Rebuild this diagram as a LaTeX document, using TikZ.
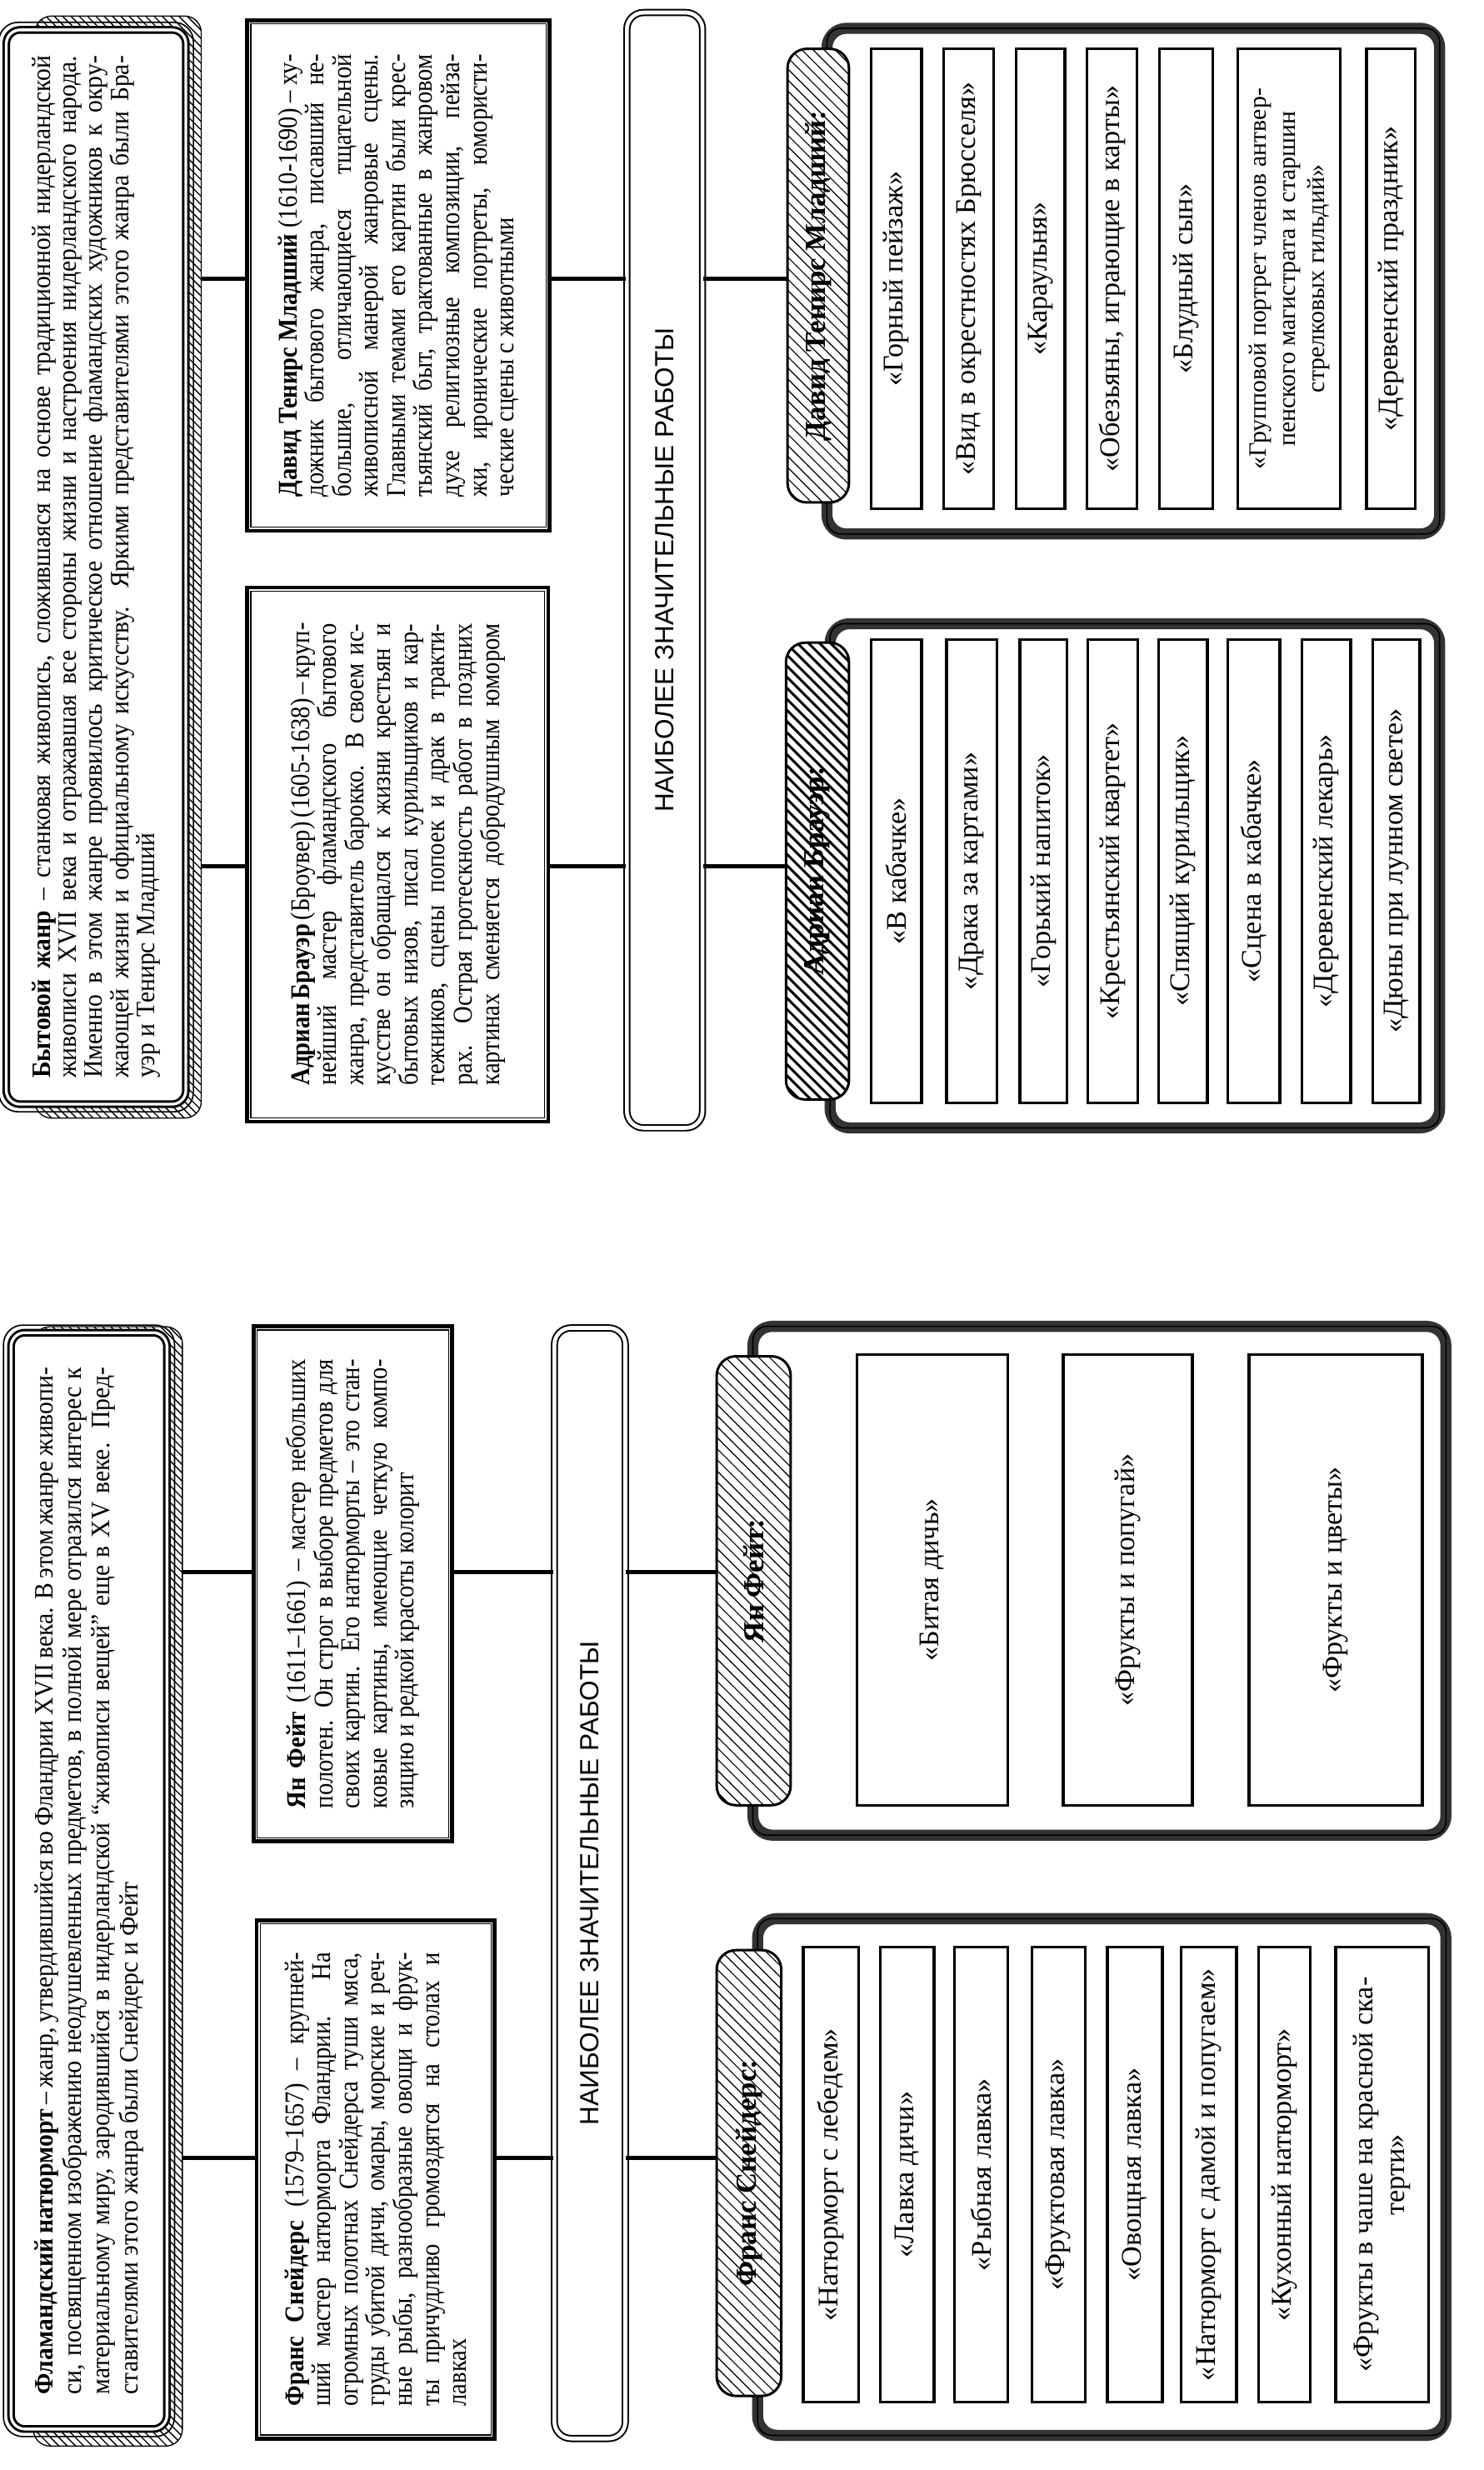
\documentclass[tikz,border=0pt]{standalone}
\usepackage{fontspec}
\setmainfont{Liberation Serif}
\setsansfont{Liberation Sans}
\newfontfamily\condserif[FakeStretch=0.88]{Liberation Serif}
\newfontfamily\genreserif[FakeStretch=0.93]{Liberation Serif}
\usetikzlibrary{calc,backgrounds,patterns}

% justified line of a fixed width
\newlength{\jw}
\newcommand{\jl}[1]{\makebox[\jw][s]{#1}}

% hatching for the name tabs
\pgfdeclarepatternformonly{hatchthin}{\pgfqpoint{-1pt}{-1pt}}{\pgfqpoint{5pt}{5pt}}{\pgfqpoint{4pt}{4pt}}{%
  \pgfsetlinewidth{0.35pt}%
  \pgfpathmoveto{\pgfqpoint{-0.1pt}{4.1pt}}%
  \pgfpathlineto{\pgfqpoint{4.1pt}{-0.1pt}}%
  \pgfusepath{stroke}}
\pgfdeclarepatternformonly{hatchbold}{\pgfqpoint{-1pt}{-1pt}}{\pgfqpoint{5pt}{5pt}}{\pgfqpoint{4pt}{4pt}}{%
  \pgfsetlinewidth{0.9pt}%
  \pgfpathmoveto{\pgfqpoint{-0.1pt}{4.1pt}}%
  \pgfpathlineto{\pgfqpoint{4.1pt}{-0.1pt}}%
  \pgfusepath{stroke}}

\begin{document}
\begin{tikzpicture}[
    rotate=90, transform shape,
    genre/.style={draw, fill=white, line width=.9pt, double=white, double distance=1pt, rounded corners=5pt, align=left, inner sep=0pt, font=\genreserif\fontsize{9.6}{10.2}\selectfont, execute at begin node={\setlength{\jw}{#1}}},
    bio/.style={draw, fill=white, line width=1.4pt, align=left, inner sep=0pt, font=\condserif\fontsize{9.8}{9.8}\selectfont, execute at begin node={\setlength{\jw}{#1}}},
    headbar/.style={draw, fill=white, line width=.6pt, double=white, double distance=1.4pt, rounded corners=6pt, font=\sffamily\fontsize{9.5}{11}\selectfont},
    workframe/.style={draw=black!80, fill=white, line width=4pt, rounded corners=7pt},
    namebox/.style={draw, line width=.9pt, rounded corners=7pt, preaction={fill=white}, pattern=hatchthin, font=\bfseries\fontsize{10.5}{12}\selectfont},
    workbox/.style={draw, fill=white, line width=1pt, align=center, inner sep=1pt, font=\fontsize{10.3}{11.5}\selectfont},
    link/.style={line width=1.5pt}
]
\useasboundingbox (0,-18.84) rectangle (31.36,0);

% genre blocks
\node[genre=13.04cm, minimum width=13.92cm, minimum height=1.98cm] (flemish) at (7.48,-1.13) {\jl{\textbf{Фламандский натюрморт} – жанр, утвердившийся во Фландрии XVII века. В этом жанре живопи-}\\\jl{си, посвященном изображению неодушевленных предметов, в полной мере отразился интерес к}\\\jl{материальному миру, зародившийся в нидерландской “живописи вещей” еще в XV веке. Пред-}\\ставителями этого жанра были Снейдерс и Фейт};
\node[genre=12.98cm, font=\genreserif\fontsize{9.6}{9.4}\selectfont, minimum width=13.64cm, minimum height=2.28cm] (genrepaint) at (24.16,-1.22) {\jl{\textbf{Бытовой жанр} – станковая живопись, сложившаяся на основе традиционной нидерландской}\\\jl{живописи XVII века и отражавшая все стороны жизни и настроения нидерландского народа.}\\\jl{Именно в этом жанре проявилось критическое отношение фламандских художников к окру-}\\\jl{жающей жизни и официальному искусству. Яркими представителями этого жанра были Бра-}\\уэр и Тенирс Младший};

\begin{scope}[on background layer]
\draw[pattern=north west lines, rounded corners=6pt] ($(flemish.south west)+(-0.2,-0.18)$) rectangle ($(flemish.north east)+(0.06,-0.3)$);
\draw[pattern=north west lines, rounded corners=6pt] ($(genrepaint.south west)+(-0.16,-0.18)$) rectangle ($(genrepaint.north east)+(0.16,-0.38)$);
\end{scope}
\foreach \n in {flemish,genrepaint}
  \draw[line width=.5pt, rounded corners=7pt] ($(\n.south west)+(-.08,-.08)$) rectangle ($(\n.north east)+(.08,.08)$);

% artists
\node[bio=5.76cm, minimum width=6.58cm, minimum height=3.02cm] (snyders) at (3.69,-4.77) {\jl{\textbf{Франс Снейдерс} (1579–1657) – крупней-}\\\jl{ший мастер натюрморта Фландрии. На}\\\jl{огромных полотнах Снейдерса туши мяса,}\\\jl{груды убитой дичи, омары, морские и реч-}\\\jl{ные рыбы, разнообразные овощи и фрук-}\\\jl{ты причудливо громоздятся на столах и}\\лавках};
\node[bio=5.70cm, minimum width=6.54cm, minimum height=2.52cm] (fyt) at (11.25,-4.48) {\jl{\textbf{Ян Фейт} (1611–1661) – мастер небольших}\\\jl{полотен. Он строг в выборе предметов для}\\\jl{своих картин. Его натюрморты – это стан-}\\\jl{ковые картины, имеющие четкую компо-}\\зицию и редкой красоты колорит};
\node[bio=5.86cm, minimum width=6.78cm, minimum height=3.82cm] (brouwer) at (20.51,-5.05) {\jl{\textbf{Адриан Брауэр} (Броувер) (1605-1638) – круп-}\\\jl{нейший мастер фламандского бытового}\\\jl{жанра, представитель барокко. В своем ис-}\\\jl{кусстве он обращался к жизни крестьян и}\\\jl{бытовых низов, писал курильщиков и кар-}\\\jl{тежников, сцены попоек и драк в тракти-}\\\jl{рах. Острая гротескность работ в поздних}\\\jl{картинах сменяется добродушным юмором}};
\node[bio=5.62cm, minimum width=6.48cm, minimum height=3.84cm] (teniers) at (27.86,-5.06) {\jl{\textbf{Давид Тенирс Младший} (1610-1690) – ху-}\\\jl{дожник бытового жанра, писавший не-}\\\jl{большие, отличающиеся тщательной}\\\jl{живописной манерой жанровые сцены.}\\\jl{Главными темами его картин были крес-}\\\jl{тьянский быт, трактованные в жанровом}\\\jl{духе религиозные композиции, пейза-}\\\jl{жи, иронические портреты, юмористи-}\\ческие сцены с животными};
\foreach \n in {snyders,fyt,brouwer,teniers}
  \draw[line width=.4pt] ($(\n.south west)+(.07,.07)$) rectangle ($(\n.north east)-(.07,.07)$);

% headers
\node[headbar, minimum width=14.10cm, minimum height=0.90cm] (headL) at (7.45,-7.49) {НАИБОЛЕЕ ЗНАЧИТЕЛЬНЫЕ РАБОТЫ};
\node[headbar, minimum width=14.16cm, minimum height=0.96cm] (headR) at (24.12,-8.44) {НАИБОЛЕЕ ЗНАЧИТЕЛЬНЫЕ РАБОТЫ};

% frames for the works
\node[workframe, minimum width=6.56cm, minimum height=8.74cm] (frameS) at (3.72,-13.99) {};
\node[workframe, minimum width=6.46cm, minimum height=8.80cm] (frameF) at (11.29,-13.96) {};
\node[workframe, minimum width=6.40cm, minimum height=7.74cm] (frameB) at (20.24,-14.41) {};
\node[workframe, minimum width=6.42cm, minimum height=7.78cm] (frameT) at (27.79,-14.39) {};
\foreach \n in {frameS,frameF,frameB,frameT}
  \draw[line width=.5pt, rounded corners=5pt] ($(\n.south west)+(.07,.07)$) rectangle ($(\n.north east)-(.07,.07)$);

% name tabs
\node[namebox, minimum width=5.66cm, minimum height=0.82cm] (tabS) at (3.77,-9.51) {Франс Снейдерс:};
\node[namebox, minimum width=5.70cm, minimum height=0.94cm] (tabF) at (11.29,-9.57) {Ян Фейт:};
\node[namebox, pattern=hatchbold, minimum width=5.80cm, minimum height=0.80cm] (tabB) at (20.30,-10.38) {Адриан Брауэр:};
\node[namebox, minimum width=5.76cm, minimum height=0.78cm] (tabT) at (27.86,-10.39) {Давид Тенирс Младший:};

% works: Snyders
\node[workbox, minimum width=5.78cm, minimum height=.70cm] (s1) at (3.75,-10.55) {«Натюрморт с лебедем»};
\node[workbox, minimum width=5.78cm, minimum height=.68cm] (s2) at (3.75,-11.52) {«Лавка дичи»};
\node[workbox, minimum width=5.78cm, minimum height=.68cm] (s3) at (3.75,-12.46) {«Рыбная лавка»};
\node[workbox, minimum width=5.78cm, minimum height=.68cm] (s4) at (3.75,-13.44) {«Фруктовая лавка»};
\node[workbox, minimum width=5.78cm, minimum height=.70cm] (s5) at (3.75,-14.41) {«Овощная лавка»};
\node[workbox, minimum width=5.78cm, minimum height=.70cm] (s6) at (3.75,-15.35) {«Натюрморт с дамой и попугаем»};
\node[workbox, minimum width=5.78cm, minimum height=.66cm] (s7) at (3.75,-16.31) {«Кухонный натюрморт»};
\node[workbox, minimum width=5.78cm, minimum height=1.18cm] (s8) at (3.75,-17.55) {«Фрукты в чаше на красной ска-\\терти»};

% works: Fyt
\node[workbox, minimum width=5.72cm, minimum height=1.92cm] (f1) at (11.30,-11.84) {«Битая дичь»};
\node[workbox, minimum width=5.72cm, minimum height=1.64cm] (f2) at (11.30,-14.32) {«Фрукты и попугай»};
\node[workbox, minimum width=5.72cm, minimum height=2.20cm] (f3) at (11.30,-16.96) {«Фрукты и цветы»};

% works: Brouwer
\node[workbox, minimum width=5.88cm, minimum height=.64cm] (b1) at (20.30,-11.38) {«В кабачке»};
\node[workbox, minimum width=5.88cm, minimum height=.64cm] (b2) at (20.30,-12.34) {«Драка за картами»};
\node[workbox, minimum width=5.88cm, minimum height=.60cm] (b3) at (20.30,-13.25) {«Горький напиток»};
\node[workbox, minimum width=5.88cm, minimum height=.64cm] (b4) at (20.30,-14.13) {«Крестьянский квартет»};
\node[workbox, minimum width=5.88cm, minimum height=.62cm] (b5) at (20.30,-15.02) {«Спящий курильщик»};
\node[workbox, minimum width=5.88cm, minimum height=.66cm] (b6) at (20.30,-15.92) {«Сцена в кабачке»};
\node[workbox, minimum width=5.88cm, minimum height=.62cm] (b7) at (20.30,-16.84) {«Деревенский лекарь»};
\node[workbox, minimum width=5.88cm, minimum height=.60cm] (b8) at (20.30,-17.73) {«Дюны при лунном свете»};

% works: Teniers
\node[workbox, minimum width=5.84cm, minimum height=.64cm] (t1) at (27.82,-11.38) {«Горный пейзаж»};
\node[workbox, minimum width=5.84cm, minimum height=.64cm] (t2) at (27.82,-12.30) {«Вид в окрестностях Брюсселя»};
\node[workbox, minimum width=5.84cm, minimum height=.62cm] (t3) at (27.82,-13.21) {«Караульня»};
\node[workbox, minimum width=5.84cm, minimum height=.64cm] (t4) at (27.82,-14.12) {«Обезьяны, играющие в карты»};
\node[workbox, minimum width=5.84cm, minimum height=.68cm] (t5) at (27.82,-15.06) {«Блудный сын»};
\node[workbox, minimum width=5.84cm, minimum height=1.30cm, font=\fontsize{9}{10.5}\selectfont] (t6) at (27.82,-16.37) {«Групповой портрет членов антвер-\\пенского магистрата и старшин\\стрелковых гильдий»};
\node[workbox, minimum width=5.84cm, minimum height=.62cm] (t7) at (27.82,-17.66) {«Деревенский праздник»};

% connectors
\coordinate (colS) at (3.96,0);
\coordinate (colF) at (11.40,0);
\coordinate (colB) at (20.36,0);
\coordinate (colT) at (27.82,0);
\draw[link, shorten <=5pt] (colS |- flemish.south) -- (colS |- snyders.north);
\draw[link, shorten <=5pt] (colF |- flemish.south) -- (colF |- fyt.north);
\draw[link, shorten <=5pt] (colB |- genrepaint.south) -- (colB |- brouwer.north);
\draw[link, shorten <=5pt] (colT |- genrepaint.south) -- (colT |- teniers.north);
\draw[link] (colS |- snyders.south) -- (colS |- headL.north);
\draw[link] (colF |- fyt.south) -- (colF |- headL.north);
\draw[link] (colB |- brouwer.south) -- (colB |- headR.north);
\draw[link] (colT |- teniers.south) -- (colT |- headR.north);
\draw[link] (colS |- headL.south) -- (colS |- tabS.north);
\draw[link] (colF |- headL.south) -- (colF |- tabF.north);
\draw[link] (colB |- headR.south) -- (colB |- tabB.north);
\draw[link] (colT |- headR.south) -- (colT |- tabT.north);

\end{tikzpicture}
\end{document}
